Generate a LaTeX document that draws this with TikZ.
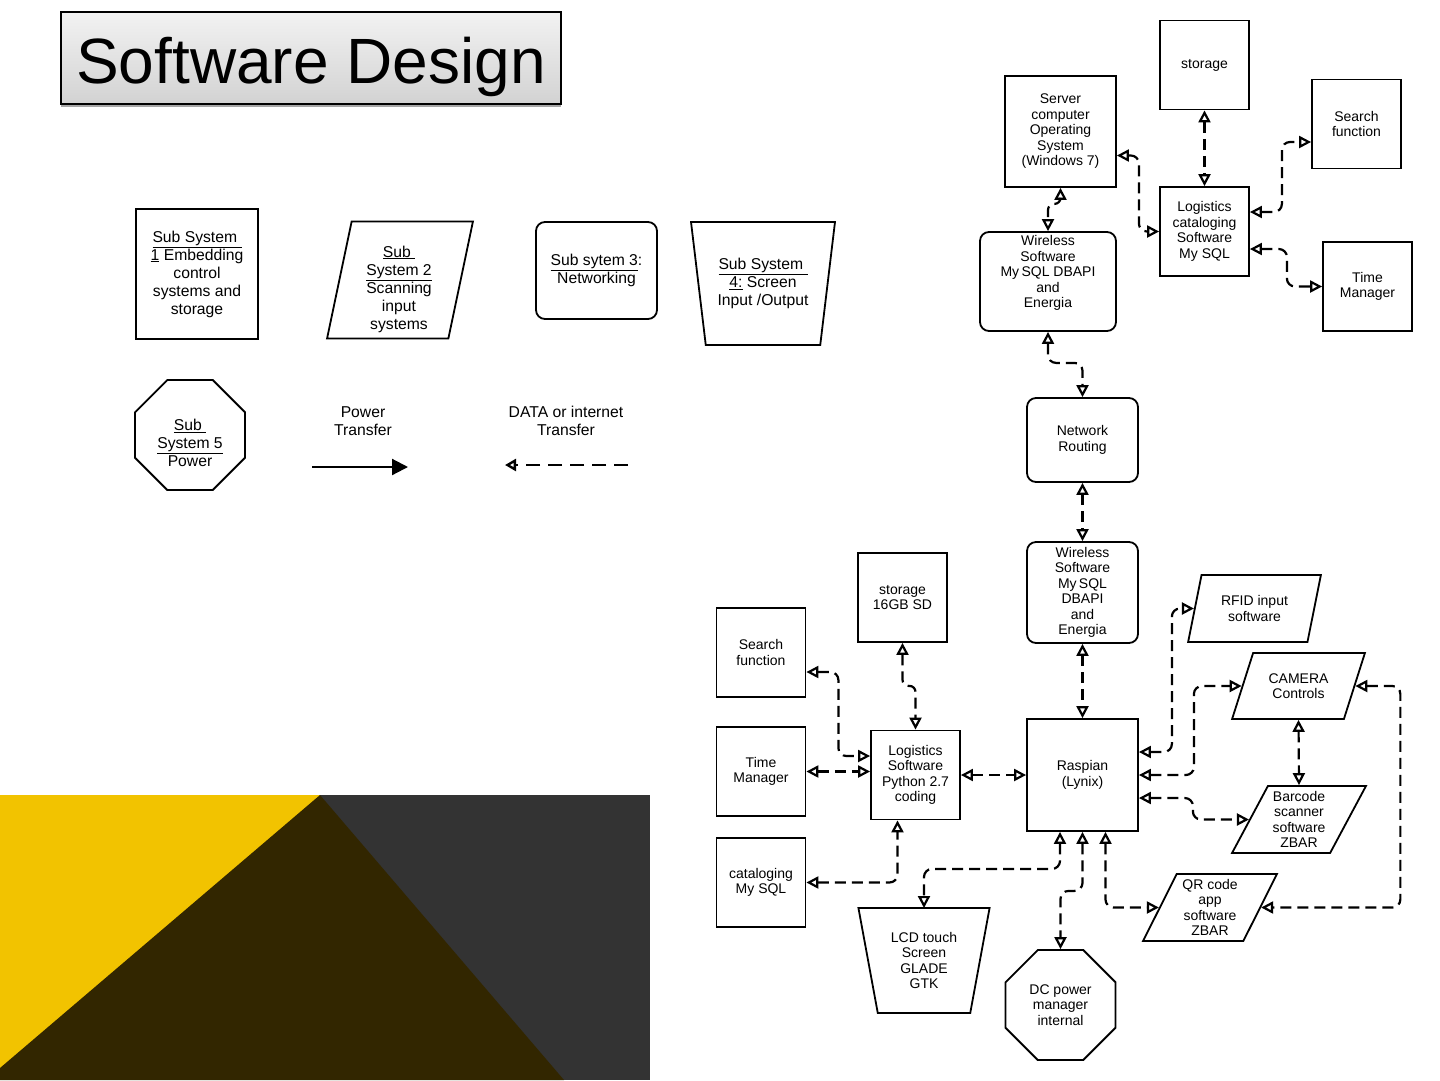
\documentclass[tikz,border=0pt]{standalone}
\usepackage{fontspec}
\setmainfont{Liberation Sans}
\usepackage{tikz}
\usetikzlibrary{arrows.meta,
                shadows,
                shapes.geometric}

\definecolor{slideyellow}{HTML}{F2C300}
\definecolor{slidebrown}{HTML}{322600}
\definecolor{slidegray}{HTML}{333333}

\newcommand{\dgtext}{\fontsize{14}{15.5}\selectfont}
\newcommand{\lgtext}{\fontsize{15.7}{18}\selectfont}

\begin{document}
\begin{tikzpicture}[x=1pt, y=-1pt,
    blk/.style = {draw, line width=1.8pt, inner sep=0pt, align=center, font=\dgtext},
    sq/.style = {blk, rectangle, minimum width=89pt, minimum height=89pt},
    rbox/.style = {blk, rectangle, rounded corners=9pt},
    para/.style 2 args = {blk, trapezium, trapezium stretches=true,
                          trapezium left angle=#1, trapezium right angle=#2},
    trap/.style = {blk, trapezium, trapezium stretches=true, trapezium angle=#1,
                   shape border rotate=180},
    octo/.style = {blk, regular polygon, regular polygon sides=8, minimum size=119pt},
    lgd/.style = {font=\lgtext, align=center, inner sep=0pt},
    link/.style = {line width=2.2pt, dash pattern=on 11pt off 6pt, rounded corners=8pt,
                   {Triangle[open, length=12pt, width=12pt]}-{Triangle[open, length=12pt, width=12pt]}}]

\useasboundingbox (0,0) rectangle (1440,1080);
\fill[white] (0,0) rectangle (1440,1080);

% slide corner
\fill[slideyellow] (0,795) rectangle (320,1080);
\fill[slidegray] (320,795) rectangle (650,1080);
\fill[slidebrown] (320,795) -- (0,1068) -- (0,1080) -- (564,1080) -- cycle;

% title
\node[draw, line width=1.2pt, minimum width=500pt, minimum height=92pt, inner sep=0pt,
      top color=gray!10, bottom color=gray!35,
      drop shadow={shadow xshift=0pt, shadow yshift=-3pt, fill=gray!70, opacity=1},
      font=\fontsize{64}{70}\selectfont, text height=55pt, text depth=5pt] (ttl) at (311,58) {Software Design};

% legend
\node[sq, minimum width=122pt, minimum height=130pt, font=\lgtext] (ssA) at (197,274)
    {\underline{Sub System }\\\underline{1} Embedding\\control\\systems and\\storage};
\node[para={72.9}{107.1}, minimum width=146pt, minimum height=117pt] (ssB) at (400,280) {\phantom{M}};
\node[lgd] (ssBt) at (399,289) {\underline{Sub }\\\underline{System 2}\\Scanning\\input\\systems};
\node[rbox, minimum width=121pt, minimum height=97pt, font=\lgtext] (ssC) at (596.5,270.5)
    {\underline{Sub sytem 3}:\\Networking};
\node[trap=77, minimum width=144pt, minimum height=123pt, font=\lgtext] (ssD) at (763,283.5)
    {\underline{Sub System }\\\underline{4:} Screen\\Input /Output};
\node[octo] (ssE) at (190,435) {\phantom{M}};
\node[lgd] (ssEt) at (190,443) {\underline{Sub }\\\underline{System 5}\\Power};

\node[lgd] (pwt) at (363,421) {Power\\Transfer};
\node[lgd] (dtt) at (566,421) {DATA or internet\\Transfer};
\coordinate (pwA) at (312,467);
\coordinate (pwB) at (408,467);
\coordinate (dtA) at (628,465);
\coordinate (dtB) at (505,465);
\draw[line width=2.2pt, -{Triangle[length=16pt, width=16pt]}] (pwA) -- (pwB);
\draw[line width=2.4pt, dash pattern=on 14pt off 8pt, -{Triangle[open, length=11pt, width=12pt]}] (dtA) -- (dtB);

% server side
\node[sq] (sto1) at (1204.5,65) {storage};
\node[sq, minimum width=111pt, minimum height=111pt] (srv) at (1060.5,131.5)
    {Server\\computer\\Operating\\System\\(Windows 7)};
\node[sq] (srch1) at (1356.5,124) {Search\\function};
\node[sq] (lcs) at (1204.5,231.5) {Logistics\\cataloging\\Software\\My SQL};
\node[sq] (tm1) at (1367.5,286.5) {Time\\Manager};
\node[rbox, minimum width=136pt, minimum height=99pt] (wl1) at (1048,281.5) {};
\node[blk, draw=none] (wl1t) at (1048,273) {Wireless\\Software\\My\,SQL DBAPI\\and\\Energia};
\node[rbox, minimum width=111pt, minimum height=84pt] (net) at (1082.5,440) {Network\\Routing};

% device side
\node[rbox, minimum width=111pt, minimum height=101pt] (wl2) at (1082.5,592.5)
    {Wireless\\Software\\My\,SQL\\DBAPI\\and\\Energia};
\node[sq, minimum width=111pt, minimum height=112pt] (ras) at (1082.5,775) {Raspian\\(Lynix)};
\node[sq] (sto2) at (902.5,597.5) {storage\\16GB SD};
\node[sq] (srch2) at (761,652.5) {Search\\function};
\node[sq] (tm2) at (761,771.5) {Time\\Manager};
\node[sq] (cat) at (761,882.5) {cataloging\\My SQL};
\node[sq] (lgp) at (915.5,775) {Logistics\\Software\\Python 2.7\\coding};
\node[para={71.8}{108.2}, minimum width=133pt, minimum height=67pt] (rfid) at (1254.5,608.5) {RFID input\\software};
\node[para={61.4}{118.6}, minimum width=133pt, minimum height=66pt] (cam) at (1298.5,686) {CAMERA\\Controls};
\node[para={61.7}{118.3}, minimum width=134pt, minimum height=67pt] (bar) at (1299,819.5) {Barcode\\scanner\\software\\ZBAR};
\node[para={63.8}{116.2}, minimum width=134pt, minimum height=67pt] (qr) at (1210,907.5) {QR code\\app\\software\\ZBAR};
\node[trap=76.3, minimum width=132pt, minimum height=105pt] (lcd) at (924,960.5) {LCD touch\\Screen\\GLADE\\GTK};
\node[octo] (dc) at (1060.5,1005) {DC power\\manager\\internal};

% links
\draw[link] (sto1.south) -- (lcs.north);
\draw[link] ([yshift=-24pt]srv.east) -- ++(22,0) |- (lcs.west);
\draw[link] ([yshift=19.5pt]lcs.east) -- ++(32,0) |- ([yshift=-18pt]srch1.west);
\draw[link] ([yshift=-17.5pt]lcs.east) -- ++(37,0) |- (tm1.west);
\draw[link, rounded corners=6pt] (srv.south) -- ++(0,16) -| (wl1.north);
\draw[link] (wl1.south) -- ++(0,31) -| (net.north);
\draw[link] (net.south) -- (wl2.north);
\draw[link] (wl2.south) -- (ras.north);

\draw[link, rounded corners=6pt] (sto2.south) -- ++(0,43) -| (lgp.north);
\draw[link] ([yshift=-19.5pt]srch2.east) -- ++(32,0) |- ([yshift=19pt]lgp.west);
\draw[link] (tm2.east) -- (tm2.east -| lgp.west);
\draw[link] (cat.east) -| ([xshift=-18pt]lgp.south);
\draw[link] (lgp.east) -- (ras.west);

\draw[link] ([yshift=23pt]ras.east) -- ++(33,0) |- (rfid.left side);
\draw[link] (ras.east) -- ++(55,0) |- (cam.left side);
\draw[link] ([yshift=-23pt]ras.east) -- ++(54,0) |- (bar.left side);
\draw[link] (cam.center |- cam.bottom side) -- (bar.center |- bar.top side);
\draw[link] (cam.right side) -- ++(45,0) |- (qr.right side);
\draw[link] ([xshift=23pt]ras.south) |- (qr.left side);
\draw[link] ([xshift=-22.5pt]ras.south) -- ++(0,37) -| ([yshift=52.5pt]lcd.center);
\draw[link] (ras.south) -- ++(0,59) -| (dc.north);

\end{tikzpicture}
\end{document}
